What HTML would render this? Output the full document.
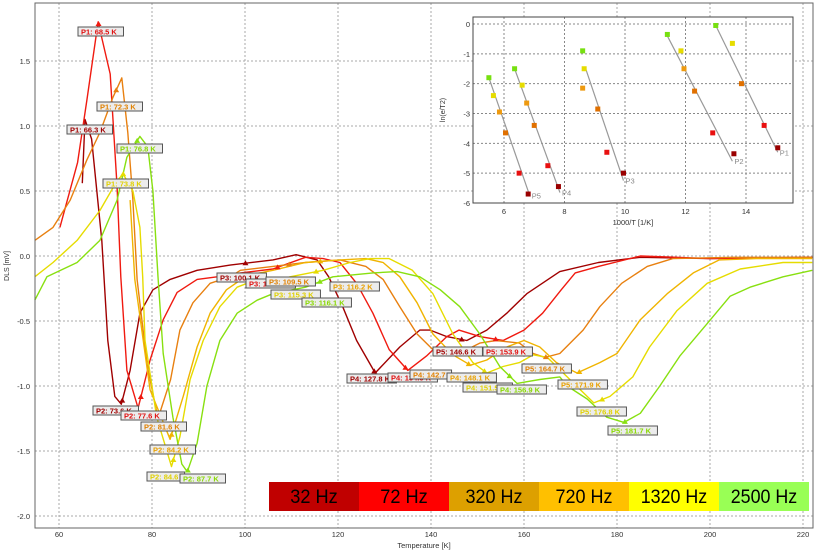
<!DOCTYPE html>
<html><head><meta charset="utf-8">
<style>
html,body{margin:0;padding:0;background:#fff;}
svg{display:block;font-family:"Liberation Sans",sans-serif;}
</style></head>
<body>
<svg id="chart" width="827" height="550" viewBox="0 0 827 550" xmlns="http://www.w3.org/2000/svg"></svg>
<script>
// ===== main chart data =====
const xTicks = [60,80,100,120,140,160,180,200,220];
const yTicks = [1.5,1.0,0.5,0.0,-0.5,-1.0,-1.5,-2.0];
const seriesNames = ["32 Hz","72 Hz","320 Hz","720 Hz","1320 Hz","2500 Hz"];
const seriesColors = ["#a00000","#f01a10","#e88010","#f0b400","#e6dc00","#88e010"];
const legendColors = ["#c00000","#ff0000","#dda000","#ffc000","#ffff00","#99ff55"];

const t32 = [65,65.6,67,69.2,70.5,72,73.4,75.3,77.4,80.2,83.9,89.7,96.8,106,111,115.5,118,121,124,128,133.3,137.6,139.8,143.4,147.7,152,156.3,160.6,167.7,176,185,200,222];
const v32 = [0.56,1.05,0.9,0.12,-0.65,-1.08,-1.14,-0.88,-0.44,-0.26,-0.18,-0.11,-0.07,-0.03,0.01,-0.03,-0.16,-0.39,-0.65,-0.9,-0.7,-0.57,-0.57,-0.62,-0.65,-0.57,-0.44,-0.29,-0.12,-0.05,-0.01,-0.02,-0.01];
const t72 = [60.2,64,66,68.4,71,72.5,73.3,74.6,77,79.6,82.4,85.4,89.7,94,99,106,113,116.8,120.4,124,127.5,131,135,139,143.4,146,150.5,155.5,160,164,168,171,176,185,200,222];
const v72 = [0.22,0.72,1.2,1.8,1.4,0.53,-0.16,-0.88,-1.17,-0.8,-0.49,-0.28,-0.18,-0.16,-0.13,-0.1,-0.01,-0.02,-0.05,-0.21,-0.44,-0.72,-0.88,-0.77,-0.62,-0.57,-0.62,-0.65,-0.57,-0.44,-0.26,-0.13,-0.08,0.0,-0.02,-0.01];
const t320 = [54.8,58.7,62.4,66,68.8,71.6,73.5,74.8,75.9,76.8,79,81.3,84,86,88.8,92.5,96.8,99,106,113,120.4,126,129.7,133.3,137,140.4,143.4,147.7,150.5,154,159,162,164.5,167.7,172.7,176.3,181,186.5,192,205,222];
const v320 = [0.12,0.22,0.43,0.74,0.95,1.22,1.37,0.95,0.43,-0.18,-0.85,-1.25,-0.95,-0.57,-0.36,-0.21,-0.16,-0.11,-0.08,-0.05,-0.03,-0.08,-0.18,-0.39,-0.6,-0.72,-0.76,-0.72,-0.67,-0.65,-0.67,-0.75,-0.78,-0.75,-0.57,-0.39,-0.21,-0.08,-0.02,-0.01,-0.01];
const t720 = [75.3,76.3,79.6,83.9,86.7,89.7,92.5,96,100.4,106,113,120.4,126,129.7,133.3,137,140.4,144.7,148.5,152,156.3,160,163.4,167,171.4,176.3,180,185,190.8,196.4,202,210,222];
const v720 = [0.43,-0.18,-1.03,-1.41,-1.08,-0.7,-0.44,-0.26,-0.15,-0.11,-0.05,-0.03,-0.02,-0.05,-0.16,-0.36,-0.6,-0.76,-0.84,-0.8,-0.7,-0.65,-0.7,-0.82,-0.9,-0.82,-0.75,-0.49,-0.29,-0.13,-0.03,-0.02,-0.02];
const t1320 = [54.8,58.7,63.9,68.8,72.5,73.8,75.9,77.4,78,78.5,81,84.2,86,88.2,91,94.6,98.3,102.6,104.7,109.7,116.8,122.6,126.9,131,136,140.4,144.7,149,152,155.5,159,162,165,169.3,175,178.5,183.4,187,192.9,199.4,206.5,215.7,222];
const v1320 = [-0.16,-0.05,0.12,0.35,0.58,0.63,0.5,0.22,-0.16,-0.65,-1.24,-1.62,-1.39,-0.95,-0.65,-0.39,-0.24,-0.18,-0.21,-0.16,-0.11,-0.05,-0.02,-0.02,-0.11,-0.29,-0.6,-0.82,-0.9,-0.85,-0.82,-0.76,-0.78,-0.93,-1.13,-1.08,-0.93,-0.7,-0.42,-0.21,-0.1,-0.05,-0.05];
const t2500 = [54.8,57.4,63.9,68.8,72.5,74.6,77.4,79.1,80.2,81.3,82.4,84.5,86.4,87.6,89.7,91.8,94.6,98.3,102.6,106,113,118.9,127.5,132.7,137.6,142,146.2,150.5,154.8,158.5,163.4,167.7,169.3,173.6,177.8,181.5,185,189.2,193.5,199.4,204.3,208.6,215.7,222];
const v2500 = [-0.34,-0.16,-0.05,0.12,0.43,0.76,0.92,0.84,0.5,-0.16,-0.75,-1.24,-1.6,-1.66,-1.44,-1.0,-0.65,-0.44,-0.34,-0.29,-0.24,-0.16,-0.13,-0.12,-0.16,-0.26,-0.39,-0.6,-0.85,-0.98,-0.95,-0.93,-1.0,-1.1,-1.24,-1.28,-1.21,-1.0,-0.77,-0.52,-0.31,-0.24,-0.16,-0.11];
const seriesT = [t32,t72,t320,t720,t1320,t2500];
const seriesV = [v32,v72,v320,v720,v1320,v2500];

// peak temperatures per series (P1..P5), null = not labelled
const peaks32 = [66.3,73.6,100.1,127.8,146.6];
const peaks72 = [68.5,77.6,107,134.5,153.9];
const peaks320 = [72.3,81.6,109.5,142.7,164.7];
const peaks720 = [null,84.2,116.2,148.1,171.9];
const peaks1320 = [73.8,84.6,115.3,151.5,176.8];
const peaks2500 = [76.8,87.7,116.1,156.9,181.7];
const peakSets = [peaks32,peaks72,peaks320,peaks720,peaks1320,peaks2500];

// ===== inset (Arrhenius) data =====
const insetXTicks = [6,8,10,12,14];
const insetYTicks = [0,-1,-2,-3,-4,-5,-6];
const insetNames = ["P1","P2","P3","P4","P5"];
const arrX_P1 = [13.0,13.55,13.85,14.6,15.05];
const arrY_P1 = [-0.05,-0.65,-2.0,-3.4,-4.15];
const arrC_P1 = [5,4,2,1,0];
const arrX_P2 = [11.4,11.85,11.95,12.3,12.9,13.6];
const arrY_P2 = [-0.35,-0.9,-1.5,-2.25,-3.65,-4.35];
const arrC_P2 = [5,4,3,2,1,0];
const arrX_P3 = [8.6,8.65,8.6,9.1,9.4,9.95];
const arrY_P3 = [-0.9,-1.5,-2.15,-2.85,-4.3,-5.0];
const arrC_P3 = [5,4,3,2,1,0];
const arrX_P4 = [6.35,6.6,6.75,7.0,7.45,7.8];
const arrY_P4 = [-1.5,-2.05,-2.65,-3.4,-4.75,-5.45];
const arrC_P4 = [5,4,3,2,1,0];
const arrX_P5 = [5.5,5.65,5.85,6.05,6.5,6.8];
const arrY_P5 = [-1.8,-2.4,-2.95,-3.65,-5.0,-5.7];
const arrC_P5 = [5,4,3,2,1,0];
const fitX0 = [13.0,11.4,8.7,6.35,5.5];
const fitY0 = [-0.05,-0.4,-1.5,-1.5,-1.8];
const fitX1 = [15.05,13.55,9.95,7.85,6.85];
const fitY1 = [-4.3,-4.6,-5.25,-5.65,-5.75];
const insetColors = ["#9a0000","#e81010","#e07000","#ee9a10","#e6dc00","#77e010"];
const arrXs = [arrX_P1,arrX_P2,arrX_P3,arrX_P4,arrX_P5];
const arrYs = [arrY_P1,arrY_P2,arrY_P3,arrY_P4,arrY_P5];
const arrCs = [arrC_P1,arrC_P2,arrC_P3,arrC_P4,arrC_P5];

const NS = "http://www.w3.org/2000/svg";
const svg = document.getElementById("chart");
function mk(tag, attrs, parent){
  const e = document.createElementNS(NS, tag);
  for (const k in attrs) e.setAttribute(k, attrs[k]);
  (parent||svg).appendChild(e);
  return e;
}
// main axes
const PL=35, PR=813, PT=3, PB=528;
function X(t){ return 59 + (t-60)*4.65; }
function Y(v){ return 256 - v*130; }

const plotBg = mk("rect",{x:PL,y:PT,width:PR-PL,height:PB-PT,fill:"#fff"});



const grid = mk("g",{stroke:"#a8a8a8","stroke-width":1,"stroke-dasharray":"2,2"});


xTicks.forEach(t=>{ mk("line",{x1:X(t),x2:X(t),y1:PT,y2:PB},grid); });
yTicks.forEach(v=>{ mk("line",{x1:PL,x2:PR,y1:Y(v),y2:Y(v)},grid); });

const xLabels = mk("g",{"font-size":"7.5",fill:"#333","text-anchor":"middle"});


xTicks.forEach(t=>{ const e=mk("text",{x:X(t),y:537},xLabels); e.textContent=t; });
const yLabels = mk("g",{"font-size":"7.5",fill:"#333","text-anchor":"end"});


yTicks.forEach(v=>{ const e=mk("text",{x:30,y:Y(v)+3},yLabels); e.textContent=v.toFixed(1); });

const xTitle = mk("text",{x:424,y:548,"font-size":"7.5",fill:"#333","text-anchor":"middle"});
xTitle.textContent="Temperature [K]";


const yTitle = mk("text",{x:0,y:0,"font-size":"7",fill:"#333","text-anchor":"middle",transform:"translate(9,266) rotate(-90)"});
yTitle.textContent="DLS [mV]";



// series lines
function interp(ts, vs, t){
  for(let i=0;i<ts.length-1;i++){
    if(t>=ts[i] && t<=ts[i+1]){ const f=(t-ts[i])/(ts[i+1]-ts[i]); return vs[i]+f*(vs[i+1]-vs[i]); }
  }
  return null;
}
const lines = mk("g",{fill:"none","stroke-width":1.4,"stroke-linejoin":"round"});


seriesT.forEach((ts,si)=>{
  const vs = seriesV[si];
  const n = Math.min(ts.length, vs.length);
  let d="";
  for(let i=0;i<n;i++){ d += (i?"L":"M")+X(ts[i]).toFixed(1)+","+Y(vs[i]).toFixed(1); }
  const p = mk("path",{d:d,stroke:seriesColors[si]},lines);
  
  
});
// peak markers
const markers = mk("g",{});


peakSets.forEach((ps,si)=>{
  ps.forEach((t,pi)=>{
    if(t===null) return;
    const v = interp(seriesT[si], seriesV[si], t);
    if(v===null) return;
    const x=X(t), y=Y(v);
    const tri = mk("path",{d:`M${x-3},${y+2}L${x+3},${y+2}L${x},${y-3}Z`,fill:seriesColors[si]},markers);
    
    
  });
});

// peak labels (annotation boxes)
const labelText = [
 ["P1: 68.5 K",78,27,1],["P1: 72.3 K",97,102,2],["P1: 66.3 K",67,125,0],["P1: 76.8 K",117,144,5],["P1: 73.8 K",103,179,4],
 ["P2: 73.6 K",93,406,0],["P2: 77.6 K",121,411,1],["P2: 81.6 K",141,422,2],["P2: 84.2 K",150,445,3],["P2: 84.6",147,472,4],["P2: 87.7 K",180,474,5],
 ["P3: 100.1 K",217,273,0],["P3: 108.0 K",246,279,1],["P3: 109.5 K",266,277,2],["P3: 116.2 K",330,282,3],["P3: 115.3 K",271,290,4],["P3: 116.1 K",302,298,5],
 ["P4: 127.8 K",347,374,0],["P4: 134.5 K",388,373,1],["P4: 142.7",410,370,2],["P4: 148.1 K",447,373,3],["P4: 151.5 K",463,383,4],["P4: 156.9 K",497,385,5],
 ["P5: 146.6 K",433,347,0],["P5: 153.9 K",483,347,1],["P5: 164.7 K",522,364,2],["P5: 171.9 K",558,380,3],["P5: 176.8 K",577,407,4],["P5: 181.7 K",608,426,5]
];
const labelCols = ["#a00000","#e01010","#e08000","#e8a000","#e0d000","#88d800"];
const labels = mk("g",{"font-size":"7.5","font-weight":"bold"});


labelText.forEach(l=>{
  const g = mk("g",{},labels);
  
  
  const w = l[0].length*3.95+6;
  mk("rect",{x:l[1],y:l[2],width:w,height:9,fill:"#ececec",stroke:"#555","stroke-width":1},g);
  const t = mk("text",{x:l[1]+3,y:l[2]+7.5,fill:labelCols[l[3]]},g);
  t.textContent=l[0];
});

// frame
const frame = mk("rect",{x:PL,y:PT,width:PR-PL,height:PB-PT,fill:"none",stroke:"#666","stroke-width":1});



// legend
const legend = mk("g",{});


seriesNames.forEach((n,i)=>{
  const g = mk("g",{},legend);
  
  
  mk("rect",{x:269+i*90,y:482,width:90,height:29,fill:legendColors[i]},g);
  const t = mk("text",{x:269+i*90+45,y:503,"font-size":"19","text-anchor":"middle",fill:"#000","font-family":"Liberation Sans Narrow, Liberation Sans, sans-serif",textLength:n.length*9.5,lengthAdjust:"spacingAndGlyphs"},g);
  t.textContent=n;
});

// ===== inset =====
const IL=473, IR=793, IT=17, IB=203;
function IX(u){ return 504 + (u-6)*30.25; }
function IY(w){ return 24 - w*29.83; }
const inset = mk("g",{});


mk("rect",{x:IL,y:IT,width:IR-IL,height:IB-IT,fill:"#fff"},inset);
const ig = mk("g",{stroke:"#888","stroke-width":1,"stroke-dasharray":"2,2"},inset);


insetXTicks.forEach(u=>mk("line",{x1:IX(u),x2:IX(u),y1:IT,y2:IB},ig));
insetYTicks.forEach(w=>mk("line",{x1:IL,x2:IR,y1:IY(w),y2:IY(w)},ig));
const ixl = mk("g",{"font-size":"7.5",fill:"#333","text-anchor":"middle"},inset);


insetXTicks.forEach(u=>{ const e=mk("text",{x:IX(u),y:214},ixl); e.textContent=u; });
const iyl = mk("g",{"font-size":"7.5",fill:"#333","text-anchor":"end"},inset);


insetYTicks.forEach(w=>{ const e=mk("text",{x:470,y:IY(w)+3},iyl); e.textContent=w; });
const ixt = mk("text",{x:633,y:225,"font-size":"7.5",fill:"#333","text-anchor":"middle"},inset);
ixt.textContent="1000/T [1/K]";


const iyt = mk("text",{x:0,y:0,"font-size":"7",fill:"#333","text-anchor":"middle",transform:"translate(445,110) rotate(-90)"},inset);
iyt.textContent="ln(e/T2)";


insetNames.forEach((nm,k)=>{
  const fl = mk("line",{x1:IX(fitX0[k]),y1:IY(fitY0[k]),x2:IX(fitX1[k]),y2:IY(fitY1[k]),stroke:"#999","stroke-width":1.2},inset);
  
  
  const xs=arrXs[k], ys=arrYs[k], cs=arrCs[k];
  for(let i=0;i<xs.length;i++){
    const r = mk("rect",{x:IX(xs[i])-2.5,y:IY(ys[i])-2.5,width:5,height:5,fill:insetColors[cs[i]]},inset);
    
    
  }
  const lt = mk("text",{x:IX(fitX1[k])+2,y:IY(fitY1[k])+3,"font-size":"7.5",fill:"#888"},inset);
  lt.textContent=nm;
  
  
});
mk("rect",{x:IL,y:IT,width:IR-IL,height:IB-IT,fill:"none",stroke:"#444","stroke-width":1},inset);
</script>
</body></html>
